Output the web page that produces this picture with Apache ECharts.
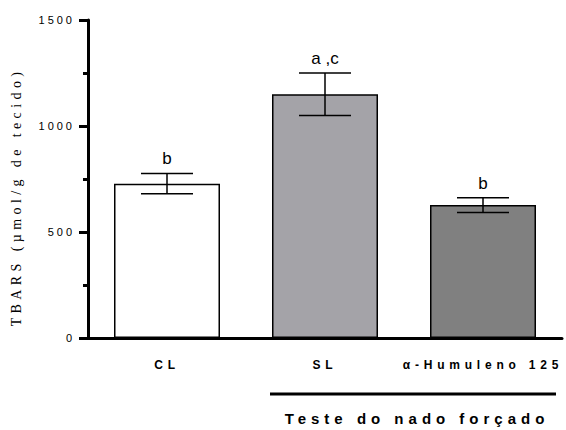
<!DOCTYPE html>
<html>
<head>
<meta charset="utf-8">
<script src="https://cdn.jsdelivr.net/npm/echarts@6/dist/echarts.min.js"></script>
<style>
html,body{margin:0;padding:0;background:#fff;}
#chart{width:566px;height:430px;}
#chart text[style*="Liberation Serif"]{letter-spacing:4.4px;}
#chart text[style*="11px"]{letter-spacing:3px;}
#chart text[style*="12px"]{letter-spacing:4.8px;}
#chart text[style*="15px"]{letter-spacing:5px;}
</style>
</head>
<body>
<div id="chart"></div>
<script>
var categories = ['CL', 'SL', 'α-Humuleno 125'];
var means = [728, 1150, 627];
var sems = [48, 100, 35];
var sigLabels = ['b', 'a ,c', 'b'];
var barColors = ['#ffffff', '#a4a3a8', '#808080'];
var yTicks = [0, 500, 1000, 1500];
var groupTitle = 'Teste do nado forçado';
var yTitle = 'TBARS (µmol/g de tecido)';

var chart = echarts.init(document.getElementById('chart'), null, {renderer: 'svg'});

var errData = means.map(function (m, i) { return [i, m - sems[i], m + sems[i], sigLabels[i]]; });

chart.setOption({
  animation: false,
  backgroundColor: '#fff',
  grid: {left: 88, right: 4, top: 20, bottom: 92, containLabel: false},
  xAxis: {
    type: 'category',
    data: categories,
    axisLine: {lineStyle: {color: '#000', width: 3}},
    axisTick: {alignWithLabel: true, length: 6, lineStyle: {color: '#000', width: 3}},
    axisLabel: {color: '#000', fontSize: 12, fontWeight: 'bold', fontFamily: 'Liberation Sans', margin: 21}
  },
  yAxis: {
    type: 'value',
    min: 0, max: 1500, interval: 500,
    axisLine: {show: true, lineStyle: {color: '#000', width: 3}},
    axisTick: {show: true, length: 9, lineStyle: {color: '#000', width: 3}},
    minorTick: {show: true, splitNumber: 2, length: 5, lineStyle: {color: '#000', width: 3}},
    splitLine: {show: false},
    axisLabel: {color: '#000', fontSize: 11, fontFamily: 'Liberation Sans', margin: 13,
      formatter: function (v) { return yTicks.indexOf(v) >= 0 ? String(v) : ''; }}
  },
  series: [
    {
      type: 'bar',
      barWidth: 106,
      data: means.map(function (m, i) {
        return {value: m, itemStyle: {color: barColors[i], borderColor: '#000', borderWidth: 1.5}};
      }),
      z: 2
    },
    {
      type: 'custom',
      z: 5,
      data: errData,
      renderItem: function (params, api) {
        var x = api.coord([api.value(0), 0])[0];
        var lo = api.coord([api.value(0), api.value(1)])[1];
        var hi = api.coord([api.value(0), api.value(2)])[1];
        var half = 26;
        var st = {stroke: '#000', lineWidth: 1.5};
        return {
          type: 'group',
          children: [
            {type: 'line', shape: {x1: x, y1: lo, x2: x, y2: hi}, style: st},
            {type: 'line', shape: {x1: x - half, y1: lo, x2: x + half, y2: lo}, style: st},
            {type: 'line', shape: {x1: x - half, y1: hi, x2: x + half, y2: hi}, style: st},
            {type: 'text', x: x, y: hi - 6, style: {text: sigLabels[params.dataIndex], fill: '#000',
              font: '17px "Liberation Sans"', textAlign: 'center', textVerticalAlign: 'bottom'}}
          ]
        };
      }
    }
  ],
  graphic: [
    {type: 'text', x: 16, y: 197, rotation: Math.PI / 2, style: {text: yTitle, fill: '#000',
      font: '14px "Liberation Serif"', textAlign: 'center', textVerticalAlign: 'middle'}},
    {type: 'line', shape: {x1: 270, y1: 394, x2: 556, y2: 394}, style: {stroke: '#000', lineWidth: 3}},
    {type: 'text', x: 417, y: 418, style: {text: groupTitle, fill: '#000', font: 'bold 15px "Liberation Sans"',
      textAlign: 'center', textVerticalAlign: 'middle'}}
  ]
});
</script>
</body>
</html>
